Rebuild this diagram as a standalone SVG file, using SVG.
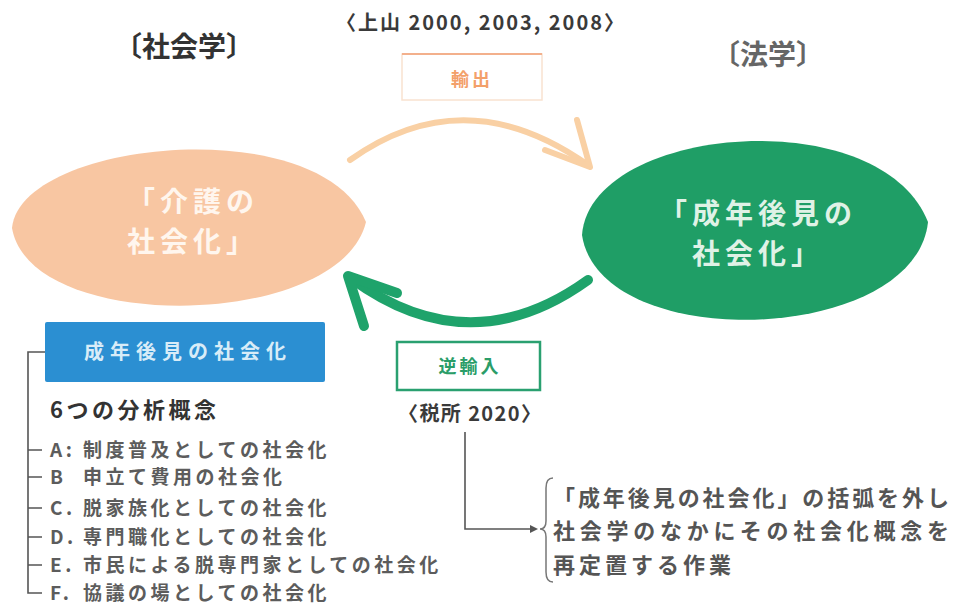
<svg xmlns="http://www.w3.org/2000/svg" width="962" height="611" viewBox="0 0 962 611">
<style>
text{font-family:"Noto Sans CJK JP","Noto Sans",sans-serif;}
.hd{font-size:28px;font-weight:bold;}
.cite{font-size:20px;font-weight:bold;fill:#3a3a3a;}
.node{font-size:28px;font-weight:bold;letter-spacing:5px;text-anchor:middle;}
.item{font-size:19px;font-weight:bold;fill:#5c5c5c;letter-spacing:3.5px;}
.ln{stroke:#555;stroke-width:1.6;fill:none;}
.rt{font-size:22px;font-weight:bold;fill:#555;letter-spacing:4px;}
</style>
<rect width="962" height="611" fill="#fff"/>

<g id="title-sociology"><text class="hd" x="114" y="57" fill="#333">〔社会学〕</text></g>
<g id="title-law"><text class="hd" x="712" y="65" fill="#666">〔法学〕</text></g>
<g id="cite-ueyama"><text class="cite" x="336" y="30" textLength="288" lengthAdjust="spacing">〈上山 2000, 2003, 2008〉</text></g>

<g id="connectors">
  <path d="M350,160 Q465,78 588,165" fill="none" stroke="#f9d0a4" stroke-width="6" stroke-linecap="round"/>
  <polyline points="577,120 590,167 545,150" fill="none" stroke="#f9d0a4" stroke-width="6" stroke-linecap="round" stroke-linejoin="round"/>
  <path d="M588,280 Q470,365 352,279" fill="none" stroke="#1fa36b" stroke-width="10" stroke-linecap="round"/>
  <polyline points="397,293 348,276 364,326" fill="none" stroke="#1fa36b" stroke-width="10" stroke-linecap="round" stroke-linejoin="round"/>
  <path class="ln" d="M45,352 H28 V593 H42"/>
  <path class="ln" d="M28,450 H42 M28,477 H42 M28,508 H42 M28,537 H42 M28,565 H42"/>
  <path class="ln" d="M465,432 V529 H532"/>
  <polygon points="538,529 530,525 530,533" fill="#555"/>
</g>

<g id="label-export">
  <rect x="402" y="54" width="140" height="46" fill="#fff" stroke="#f9e2d0" stroke-width="1.5"/>
  <line x1="402" y1="54" x2="542" y2="54" stroke="#f3b08c" stroke-width="2"/>
  <text x="472" y="86" font-size="18" font-weight="bold" fill="#f3a06a" text-anchor="middle" letter-spacing="3">輸出</text>
</g>

<g id="node-kaigo">
  <path d="M12,228 C20,140 320,110 366,222 C340,330 30,335 12,228 Z" fill="#f8c6a2"/>
  <text class="node" x="193" y="212" fill="#fff6ee">「介護の</text>
  <text class="node" x="193" y="252" fill="#fff6ee">社会化」</text>
</g>

<g id="node-seinen">
  <path d="M582,235 C590,125 880,100 928,222 C915,345 600,355 582,235 Z" fill="#1f9e66"/>
  <text class="node" x="758" y="224" fill="#dff2e6">「成年後見の</text>
  <text class="node" x="758" y="264" fill="#dff2e6">社会化」</text>
</g>

<g id="label-reimport">
  <rect x="397" y="342" width="143" height="48" fill="#fff" stroke="#2aa070" stroke-width="2.5"/>
  <text x="470" y="373" font-size="18" font-weight="bold" fill="#2a9d68" text-anchor="middle" letter-spacing="3">逆輸入</text>
</g>
<g id="cite-saisho"><text class="cite" x="398" y="421" textLength="143" lengthAdjust="spacing">〈税所 2020〉</text></g>

<g id="box-concept">
  <rect x="45" y="322" width="280" height="60" rx="2" fill="#2b8fd2"/>
  <text x="188" y="359" font-size="20" font-weight="bold" fill="#d8ecf8" text-anchor="middle" letter-spacing="6">成年後見の社会化</text>
</g>

<g id="list">
  <text x="50" y="418" font-size="22" font-weight="bold" fill="#333" letter-spacing="3.5">6つの分析概念</text>
  <text class="item" y="457"><tspan x="50">A:</tspan><tspan x="83">制度普及としての社会化</tspan></text>
  <text class="item" y="484"><tspan x="50">B</tspan><tspan x="83">申立て費用の社会化</tspan></text>
  <text class="item" y="515"><tspan x="50">C.</tspan><tspan x="83">脱家族化としての社会化</tspan></text>
  <text class="item" y="544"><tspan x="50">D.</tspan><tspan x="83">専門職化としての社会化</tspan></text>
  <text class="item" y="572"><tspan x="50">E.</tspan><tspan x="83">市民による脱専門家としての社会化</tspan></text>
  <text class="item" y="600"><tspan x="50">F.</tspan><tspan x="83">協議の場としての社会化</tspan></text>
</g>

<g id="note">
  <path d="M553,478 Q546,478 546,488 L546,521 Q546,529 540,529 Q546,529 546,537 L546,572 Q546,582 553,582" fill="none" stroke="#777" stroke-width="1.5"/>
  <text class="rt" x="553" y="506" textLength="400" lengthAdjust="spacing">「成年後見の社会化」の括弧を外し</text>
  <text class="rt" x="553" y="539" textLength="400" lengthAdjust="spacing">社会学のなかにその社会化概念を</text>
  <text class="rt" x="553" y="573">再定置する作業</text>
</g>
</svg>
